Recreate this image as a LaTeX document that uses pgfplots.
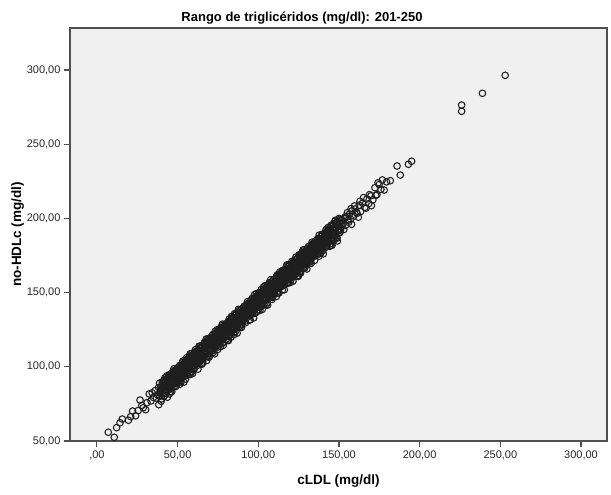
\documentclass[border=0pt]{standalone}
\usepackage{pgfplots}
\pgfplotsset{compat=1.18}
\usepackage{fontspec}
\setmainfont{Liberation Sans}
\definecolor{bg}{RGB}{240,240,240}
\definecolor{frame}{RGB}{80,80,80}
\definecolor{mk}{RGB}{30,30,30}
\begin{document}
\begin{tikzpicture}
\useasboundingbox (-70bp,-54bp) rectangle (541bp,441bp);
\begin{axis}[
  at={(0,0)}, anchor=south west,
  scale only axis, width=537bp, height=413bp,
  xmin=-16.7, xmax=316.1, ymin=50, ymax=328.3,
  axis background/.style={fill=bg},
  axis line style={frame, line width=1.1bp},
  tick style={frame, line width=1.1bp},
  tick align=outside, major tick length=6bp,
  xtick pos=bottom, ytick pos=left,
  xtick={0,50,100,150,200,250,300},
  xticklabels={{,00},{50,00},{100,00},{150,00},{200,00},{250,00},{300,00}},
  ytick={50,100,150,200,250,300},
  yticklabels={{50,00},{100,00},{150,00},{200,00},{250,00},{300,00}},
  /pgf/number format/assume math mode=true,
  tick label style={font=\fontsize{11bp}{13bp}\selectfont, text=black!85},
  xlabel={cLDL (mg/dl)},
  ylabel={no-HDLc (mg/dl)},
  title={Rango de triglicéridos (mg/dl): 201-250},
  xlabel style={at={(axis description cs:0.5,0)}, anchor=base, yshift=-43bp, font=\bfseries\fontsize{13.5bp}{16bp}\selectfont},
  ylabel style={at={(axis description cs:-0.0912,0.5)}, anchor=base, font=\bfseries\fontsize{13.5bp}{16bp}\selectfont},
  title style={at={(axis description cs:0.432,1.0153)}, anchor=base, yshift=-6pt, font=\bfseries\fontsize{13bp}{16bp}\selectfont},
]
\addplot[only marks, mark=o, mark size=3.3bp, mark options={draw=mk, line width=1.05bp, fill=none}] coordinates {
(7.0,55.9) (10.7,52.5) (12.2,59.0) (14.3,62.3) (15.7,64.8) (19.5,64.0) (20.9,66.4) (22.1,70.2) (24.0,67.0) (25.5,70.5) (26.7,77.6) (27.8,74.0) (28.7,72.4) (30.2,71.1) (31.0,75.8) (32.4,81.7) (33.5,77.0) (34.2,82.5) (35.0,79.3) (36.1,84.0) (36.8,78.9) (37.5,81.2) (38.2,86.1) (39.0,82.4) (39.6,84.8)
(40.0,84.2) (40.4,82.0) (41.1,89.4) (41.3,87.3) (41.8,84.6) (42.1,91.2) (42.7,88.1) (43.1,84.0) (43.9,91.1) (44.2,87.7) (44.7,91.5) (45.3,86.5) (45.5,94.4) (45.9,90.8) (46.6,88.7)
(46.9,94.6) (47.3,93.1) (48.0,88.6) (48.2,97.7) (48.7,91.7) (49.0,93.2) (49.6,91.2) (50.0,98.3) (50.8,96.8) (51.1,93.9) (51.6,100.7) (52.2,97.6) (52.4,93.3) (52.8,100.0) (53.5,97.0)
(53.8,100.6) (54.2,95.4) (54.9,103.8) (55.1,100.0) (55.6,97.7) (55.9,103.6) (56.5,102.3) (56.9,97.5) (57.7,107.2) (58.0,101.0) (58.5,102.7) (59.1,100.7) (59.3,107.6) (59.7,105.7) (60.4,103.2)
(60.7,109.8) (61.1,106.5) (61.8,102.7) (62.0,109.2) (62.5,106.0) (62.8,109.6) (63.4,104.6) (63.8,112.7) (64.6,109.5) (64.9,107.0) (65.4,113.1) (66.0,111.8) (66.2,106.8) (66.6,116.1) (67.3,110.3)
(67.6,110.6) (67.9,117.4) (68.5,109.1) (69.0,114.8) (69.2,116.9) (69.8,111.9) (70.1,115.0) (70.6,119.5) (71.2,112.4) (71.4,118.2) (72.0,115.5) (72.5,119.7) (73.0,113.9) (73.4,118.8) (74.0,123.1)
(74.5,117.3) (74.8,120.8) (75.4,123.7) (75.9,117.5) (76.1,120.3) (76.7,119.7) (77.0,126.5) (77.5,118.1) (78.1,123.9) (78.3,126.0) (78.9,121.0) (79.4,124.3) (79.9,128.8) (80.3,121.5) (80.9,127.7)
(81.4,124.9) (81.7,128.9) (82.3,123.2) (82.8,128.2) (83.0,132.1) (83.6,126.4) (83.9,129.9) (84.4,132.7) (85.0,126.6) (85.2,129.4) (85.8,128.8) (86.3,135.8) (86.8,127.4) (87.2,133.0) (87.8,135.5)
(88.3,130.4) (88.6,133.5) (89.2,138.1) (89.7,130.9) (89.9,136.7) (90.5,134.0) (90.8,138.0) (91.3,132.2) (91.9,137.3) (92.1,141.2) (92.7,135.5) (93.2,139.2) (93.7,142.0) (94.1,135.7) (94.7,138.9)
(95.2,136.1) (95.6,142.8) (96.3,139.8) (96.5,143.3) (97.0,138.2) (97.3,146.2) (97.9,142.8) (98.3,140.4) (99.1,146.8) (99.4,145.2) (99.9,140.5) (100.5,150.0) (100.7,143.7) (101.1,145.3) (101.8,143.4)
(102.1,150.4) (102.5,148.5) (103.2,146.0) (103.4,152.5) (103.9,149.3) (104.2,145.1) (104.8,152.0) (105.2,148.7) (106.0,152.8) (106.3,147.5) (106.8,155.7) (107.4,152.3) (107.6,149.7) (108.0,155.7) (108.7,154.5)
(109.0,149.6) (109.4,158.9) (110.1,153.1) (110.3,154.5) (110.8,152.4) (111.1,159.4) (111.7,157.7) (112.1,154.9) (112.9,162.0) (113.2,158.6) (113.7,154.6) (114.3,161.5) (114.5,158.0) (114.9,161.7) (115.6,156.8)
(115.9,164.8) (116.3,161.2) (117.0,159.1) (117.2,164.9) (117.7,163.5) (118.0,158.6) (118.6,168.1) (119.0,162.0) (119.8,164.0) (120.1,161.7) (120.6,168.9) (121.2,167.2) (121.4,164.2) (121.8,170.9) (122.5,167.9)
(122.8,166.3) (123.1,170.3) (123.7,164.6) (124.2,169.6) (124.4,173.5) (125.0,167.8) (125.3,171.3) (125.8,174.1) (126.4,168.0) (126.6,170.8) (127.2,170.2) (127.7,177.2) (128.2,168.8) (128.6,174.4) (129.2,176.9)
(129.7,171.8) (130.0,174.9) (130.6,179.5) (131.1,172.3) (131.3,178.1) (131.9,175.4) (132.2,179.4) (132.7,173.6) (133.3,178.7) (133.5,182.6) (134.1,176.9) (134.6,180.6) (135.1,183.4) (135.5,177.1) (136.1,180.3)
(136.6,179.6) (136.9,186.4) (137.5,178.1) (138.0,183.8) (138.2,185.9) (138.8,180.9) (139.1,184.0) (139.6,188.5) (140.2,181.4) (140.4,187.2) (141.0,184.5) (141.5,188.7) (142.0,182.9) (142.4,187.8) (143.0,192.1)
(143.5,186.3) (144.0,190.0) (144.7,193.0) (145.3,186.9) (145.6,189.8) (146.4,189.4) (146.8,196.3) (147.4,188.0) (148.2,194.0) (148.4,196.1) (149.2,191.3) (149.9,194.8) (150.5,199.4) (151.0,192.2) (151.8,198.6)
(152.6,196.9) (153.3,199.8) (154.1,195.3) (154.8,201.5) (155.6,198.7) (156.5,203.0) (157.2,199.4) (158.0,205.1) (159.1,201.6) (160.0,206.3) (161.2,203.4) (162.5,208.9) (163.4,204.6) (164.6,210.2) (166.0,207.5)
(167.3,213.1) (168.5,210.0) (169.8,215.2) (171.0,212.5) (172.3,220.7) (173.5,216.0) (174.9,222.8) (176.0,219.5) (176.9,225.9) (178.0,219.1) (179.5,224.6) (181.8,225.4) (186.0,235.3) (188.0,229.2) (193.0,236.5) (195.0,238.5)
(226.0,276.4) (226.0,272.2) (238.9,284.3) (253.0,296.4)
(38.3,74.5) (38.8,89.0) (39.4,83.0) (39.8,76.8) (40.5,89.9) (41.0,87.3) (41.6,80.0) (42.1,92.6) (42.5,84.7) (43.1,91.9)
(43.7,79.5) (44.2,89.7) (44.8,94.7) (45.2,85.0) (45.9,93.5) (46.4,83.3) (47.0,91.1) (47.5,96.7) (47.9,89.3) (48.5,96.8)
(49.1,97.4) (49.6,91.0) (50.2,99.4) (50.6,94.7) (51.3,88.2) (51.8,99.4) (52.4,92.2) (52.9,102.8) (53.3,98.8) (53.9,89.7)
(54.5,103.3) (55.0,97.2) (55.6,106.1) (56.0,94.4) (56.7,103.0) (57.2,106.6) (57.8,94.8) (58.3,101.9) (58.7,108.9) (59.3,95.5)
(59.9,106.2) (60.4,98.8) (61.0,111.5) (61.4,103.6) (62.1,110.9) (62.6,98.4) (63.2,108.7) (63.7,113.6) (64.1,103.9) (64.7,112.3)
(65.3,102.2) (65.8,109.9) (66.4,115.6) (66.8,108.2) (67.5,115.8) (68.0,104.2) (68.6,118.8) (69.1,112.7) (69.5,106.5) (70.1,119.5)
(70.7,118.3) (71.2,111.0) (71.8,121.7) (72.2,117.7) (72.9,108.7) (73.4,122.2) (74.0,116.2) (74.5,125.0) (74.9,113.3) (75.5,121.8)
(76.1,125.5) (76.6,113.6) (77.2,120.8) (77.6,127.8) (78.3,114.5) (78.8,127.1) (79.4,120.8) (79.9,129.1) (80.3,124.4) (80.9,117.8)
(81.5,117.7) (82.0,132.2) (82.6,126.2) (83.0,120.0) (83.7,133.1) (84.2,130.5) (84.8,123.2) (85.3,135.8) (85.7,127.9) (86.3,135.1)
(86.9,122.7) (87.4,132.9) (88.0,137.9) (88.4,128.2) (89.1,136.7) (89.6,126.5) (90.2,134.3) (90.7,139.9) (91.1,132.5) (91.7,140.0)
(92.3,140.6) (92.8,134.2) (93.4,142.6) (93.8,137.9) (94.5,131.4) (95.0,142.6) (95.6,135.4) (96.1,146.0) (96.5,142.0) (97.1,132.9)
(97.7,146.5) (98.2,140.4) (98.8,149.3) (99.2,137.6) (99.9,146.2) (100.4,149.8) (101.0,138.0) (101.5,145.1) (101.9,152.1) (102.5,138.7)
(103.1,149.4) (103.6,142.0) (104.2,154.7) (104.6,146.8) (105.3,154.1) (105.8,141.6) (106.4,151.9) (106.9,156.8) (107.3,147.1) (107.9,155.5)
(108.5,145.4) (109.0,153.1) (109.6,158.8) (110.0,151.4) (110.7,159.0) (111.2,147.4) (111.8,162.0) (112.3,155.9) (112.7,149.7) (113.3,162.7)
(113.9,161.5) (114.4,154.2) (115.0,164.9) (115.4,160.9) (116.1,151.9) (116.6,165.4) (117.2,159.4) (117.7,168.2) (118.1,156.5) (118.7,165.0)
(119.3,168.7) (119.8,156.8) (120.4,164.0) (120.8,171.0) (121.5,157.7) (122.0,170.3) (122.6,164.0) (123.1,172.3) (123.5,167.6) (124.1,161.0)
(124.7,160.9) (125.2,175.4) (125.8,169.4) (126.2,163.2) (126.9,176.3) (127.4,173.7) (128.0,166.4) (128.5,179.0) (128.9,171.1) (129.5,178.3)
(130.1,165.9) (130.6,176.1) (131.2,181.1) (131.6,171.4) (132.3,179.9) (132.8,169.7) (133.4,177.5) (133.9,183.1) (134.3,175.7) (134.9,183.2)
(135.5,183.8) (136.0,177.4) (136.6,185.8) (137.0,181.1) (137.7,174.6) (138.2,185.8) (138.8,178.6) (139.3,189.2) (139.7,185.2) (140.3,176.1)
(140.9,189.7) (141.4,183.6) (142.0,192.5) (142.4,180.8) (143.1,189.4) (143.6,193.0) (144.2,181.2) (144.7,188.3) (145.1,195.3) (145.7,181.9)
(146.3,192.6) (146.8,185.2) (147.4,197.9) (147.8,190.0) (148.5,197.3) (149.0,184.8) (149.6,195.1) (150.1,200.0) (150.5,190.3) (151.1,198.7)
(153.0,192.5) (155.2,203.9) (157.8,196.0) (159.6,208.4) (162.0,200.8) (165.2,214.0) (170.1,208.6) (174.2,224.0)
(39.1,80.1) (39.7,86.6) (40.1,78.4) (40.6,85.1) (41.3,90.3) (41.6,84.3) (42.1,89.9) (42.7,82.2) (43.1,88.3) (43.6,86.7)
(44.1,92.5) (44.7,84.9) (45.1,91.2) (45.6,83.2) (46.3,90.3) (46.6,96.2) (47.1,88.9) (47.7,93.6) (48.1,87.1) (48.6,95.9)
(49.1,96.4) (49.7,88.7) (50.1,96.0) (50.6,92.4) (51.3,100.9) (51.6,95.6) (52.1,89.7) (52.7,98.8) (53.1,93.3) (53.6,102.0)
(54.1,97.2) (54.7,99.9) (55.1,94.6) (55.6,103.4) (56.3,99.0) (56.6,105.6) (57.1,101.6) (57.7,96.0) (58.1,105.0) (58.6,99.6)
(59.1,100.1) (59.7,106.6) (60.1,98.4) (60.6,105.1) (61.3,110.3) (61.6,104.3) (62.1,109.9) (62.7,102.2) (63.1,108.3) (63.6,106.7)
(64.1,112.5) (64.7,104.9) (65.1,111.2) (65.6,103.2) (66.3,110.3) (66.6,116.2) (67.1,108.9) (67.7,113.6) (68.1,107.1) (68.6,115.9)
(69.1,116.4) (69.7,108.7) (70.1,116.0) (70.6,112.4) (71.3,120.9) (71.6,115.6) (72.1,109.7) (72.7,118.8) (73.1,113.3) (73.6,122.0)
(74.1,117.2) (74.7,119.9) (75.1,114.6) (75.6,123.4) (76.3,119.0) (76.6,125.6) (77.1,121.6) (77.7,116.0) (78.1,125.0) (78.6,119.6)
(79.1,120.1) (79.7,126.6) (80.1,118.4) (80.6,125.1) (81.3,130.3) (81.6,124.3) (82.1,129.9) (82.7,122.2) (83.1,128.3) (83.6,126.7)
(84.1,132.5) (84.7,124.9) (85.1,131.2) (85.6,123.2) (86.3,130.3) (86.6,136.2) (87.1,128.9) (87.7,133.6) (88.1,127.1) (88.6,135.9)
(89.1,136.4) (89.7,128.7) (90.1,136.0) (90.6,132.4) (91.3,140.9) (91.6,135.6) (92.1,129.7) (92.7,138.8) (93.1,133.3) (93.6,142.0)
(94.1,137.2) (94.7,139.9) (95.1,134.6) (95.6,143.4) (96.3,139.0) (96.6,145.6) (97.1,141.6) (97.7,136.0) (98.1,145.0) (98.6,139.6)
(99.1,140.1) (99.7,146.6) (100.1,138.4) (100.6,145.1) (101.3,150.3) (101.6,144.3) (102.1,149.9) (102.7,142.2) (103.1,148.3) (103.6,146.7)
(104.1,152.5) (104.7,144.9) (105.1,151.2) (105.6,143.2) (106.3,150.3) (106.6,156.2) (107.1,148.9) (107.7,153.6) (108.1,147.1) (108.6,155.9)
(109.1,156.4) (109.7,148.7) (110.1,156.0) (110.6,152.4) (111.3,160.9) (111.6,155.6) (112.1,149.7) (112.7,158.8) (113.1,153.3) (113.6,162.0)
(114.1,157.2) (114.7,159.9) (115.1,154.6) (115.6,163.4) (116.3,159.0) (116.6,165.6) (117.1,161.6) (117.7,156.0) (118.1,165.0) (118.6,159.6)
(119.1,160.1) (119.7,166.6) (120.1,158.4) (120.6,165.1) (121.3,170.3) (121.6,164.3) (122.1,169.9) (122.7,162.2) (123.1,168.3) (123.6,166.7)
(124.1,172.5) (124.7,164.9) (125.1,171.2) (125.6,163.2) (126.3,170.3) (126.6,176.2) (127.1,168.9) (127.7,173.6) (128.1,167.1) (128.6,175.9)
(129.1,176.4) (129.7,168.7) (130.1,176.0) (130.6,172.4) (131.3,180.9) (131.6,175.6) (132.1,169.7) (132.7,178.8) (133.1,173.3) (133.6,182.0)
(134.1,177.2) (134.7,179.9) (135.1,174.6) (135.6,183.4) (136.3,179.0) (136.6,185.6) (137.1,181.6) (137.7,176.0) (138.1,185.0) (138.6,179.6)
(139.1,180.1) (139.7,186.6) (140.1,178.4) (140.6,185.1) (141.3,190.3) (141.6,184.3) (142.1,189.9) (142.7,182.2) (143.1,188.3) (143.6,186.7)
(144.1,192.5) (144.7,184.9) (145.1,191.2) (145.6,183.2) (146.3,190.3) (146.6,196.2) (147.1,188.9) (147.7,193.6) (148.1,187.1) (148.6,195.9)
(41.4,86.2) (41.8,80.7) (42.4,90.5) (42.7,85.0) (43.3,93.9) (43.8,84.5) (44.2,90.6) (44.9,81.7) (45.3,94.6) (45.8,89.5)
(46.4,86.2) (46.8,93.8) (47.4,88.9) (47.7,98.7) (48.3,93.9) (48.8,86.7) (49.2,97.9) (49.9,92.9) (50.3,90.7) (50.8,96.8)
(51.4,96.2) (51.8,90.7) (52.4,100.5) (52.7,95.0) (53.3,103.9) (53.8,94.5) (54.2,100.6) (54.9,91.7) (55.3,104.6) (55.8,99.5)
(56.4,96.2) (56.8,103.8) (57.4,98.9) (57.7,108.7) (58.3,103.9) (58.8,96.7) (59.2,107.9) (59.9,102.9) (60.3,100.7) (60.8,106.8)
(61.4,106.2) (61.8,100.7) (62.4,110.5) (62.7,105.0) (63.3,113.9) (63.8,104.5) (64.2,110.6) (64.9,101.7) (65.3,114.6) (65.8,109.5)
(66.4,106.2) (66.8,113.8) (67.4,108.9) (67.7,118.7) (68.3,113.9) (68.8,106.7) (69.2,117.9) (69.9,112.9) (70.3,110.7) (70.8,116.8)
(71.4,116.2) (71.8,110.7) (72.4,120.5) (72.7,115.0) (73.3,123.9) (73.8,114.5) (74.2,120.6) (74.9,111.7) (75.3,124.6) (75.8,119.5)
(76.4,116.2) (76.8,123.8) (77.4,118.9) (77.7,128.7) (78.3,123.9) (78.8,116.7) (79.2,127.9) (79.9,122.9) (80.3,120.7) (80.8,126.8)
(81.4,126.2) (81.8,120.7) (82.4,130.5) (82.7,125.0) (83.3,133.9) (83.8,124.5) (84.2,130.6) (84.9,121.7) (85.3,134.6) (85.8,129.5)
(86.4,126.2) (86.8,133.8) (87.4,128.9) (87.7,138.7) (88.3,133.9) (88.8,126.7) (89.2,137.9) (89.9,132.9) (90.3,130.7) (90.8,136.8)
(91.4,136.2) (91.8,130.7) (92.4,140.5) (92.7,135.0) (93.3,143.9) (93.8,134.5) (94.2,140.6) (94.9,131.7) (95.3,144.6) (95.8,139.5)
(96.4,136.2) (96.8,143.8) (97.4,138.9) (97.7,148.7) (98.3,143.9) (98.8,136.7) (99.2,147.9) (99.9,142.9) (100.3,140.7) (100.8,146.8)
(101.4,146.2) (101.8,140.7) (102.4,150.5) (102.7,145.0) (103.3,153.9) (103.8,144.5) (104.2,150.6) (104.9,141.7) (105.3,154.6) (105.8,149.5)
(106.4,146.2) (106.8,153.8) (107.4,148.9) (107.7,158.7) (108.3,153.9) (108.8,146.7) (109.2,157.9) (109.9,152.9) (110.3,150.7) (110.8,156.8)
(111.4,156.2) (111.8,150.7) (112.4,160.5) (112.7,155.0) (113.3,163.9) (113.8,154.5) (114.2,160.6) (114.9,151.7) (115.3,164.6) (115.8,159.5)
(116.4,156.2) (116.8,163.8) (117.4,158.9) (117.7,168.7) (118.3,163.9) (118.8,156.7) (119.2,167.9) (119.9,162.9) (120.3,160.7) (120.8,166.8)
(121.4,166.2) (121.8,160.7) (122.4,170.5) (122.7,165.0) (123.3,173.9) (123.8,164.5) (124.2,170.6) (124.9,161.7) (125.3,174.6) (125.8,169.5)
(126.4,166.2) (126.8,173.8) (127.4,168.9) (127.7,178.7) (128.3,173.9) (128.8,166.7) (129.2,177.9) (129.9,172.9) (130.3,170.7) (130.8,176.8)
(131.4,176.2) (131.8,170.7) (132.4,180.5) (132.7,175.0) (133.3,183.9) (133.8,174.5) (134.2,180.6) (134.9,171.7) (135.3,184.6) (135.8,179.5)
(136.4,176.2) (136.8,183.8) (137.4,178.9) (137.7,188.7) (138.3,183.9) (138.8,176.7) (139.2,187.9) (139.9,182.9) (140.3,180.7) (140.8,186.8)
(141.4,186.2) (141.8,180.7) (142.4,190.5) (142.7,185.0) (143.3,193.9) (143.8,184.5) (144.2,190.6) (144.9,181.7) (145.3,194.6) (145.8,189.5)
(146.4,186.2) (146.8,193.8) (147.4,188.9) (147.7,198.7) (148.3,193.9) (148.8,186.7) (149.2,197.9) (149.9,192.9) (150.3,190.7) (150.8,196.8)
(152.0,194.8) (153.9,201.2) (156.0,197.4) (157.5,206.6) (160.8,204.0) (163.0,211.5) (166.8,206.9) (168.9,216.0) (172.8,215.5)
};
\end{axis}
\end{tikzpicture}
\end{document}
